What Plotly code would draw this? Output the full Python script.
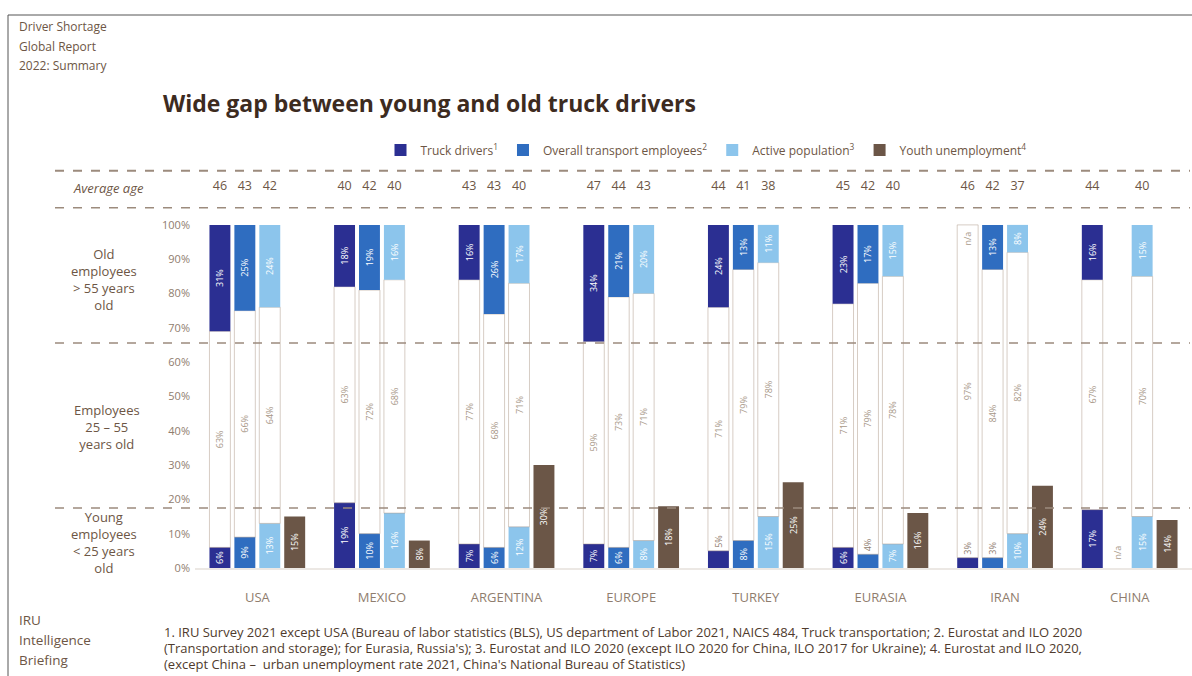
import plotly.graph_objects as go

# ---------------- data ----------------
categories = ["USA", "MEXICO", "ARGENTINA", "EUROPE", "TURKEY", "EURASIA", "IRAN", "CHINA"]

truck_old = [31, 18, 16, 34, 24, 23, None, 16]
truck_mid = [63, 63, 77, 59, 71, 71, 97, 67]
truck_young = [6, 19, 7, 7, 5, 6, 3, 17]

transport_old = [25, 19, 26, 21, 13, 17, 13, None]
transport_mid = [66, 72, 68, 73, 79, 79, 84, None]
transport_young = [9, 10, 6, 6, 8, 4, 3, None]

active_old = [24, 16, 17, 20, 11, 15, 8, 15]
active_mid = [64, 68, 71, 71, 78, 78, 82, 70]
active_young = [13, 16, 12, 8, 15, 7, 10, 15]

youth_unemployment = [15, 8, 30, 18, 25, 16, 24, 14]

truck_age = [46, 40, 43, 47, 44, 45, 46, 44]
transport_age = [43, 42, 43, 44, 41, 42, 42, None]
active_age = [42, 40, 40, 43, 38, 40, 37, 40]

y_ticks = [0, 10, 20, 30, 40, 50, 60, 70, 80, 90, 100]

# ---------------- styling ----------------
FONT = "Open Sans"
TXT = "#6d5645"
GRAY = "#8f7d6e"
MIDTXT = "#a89888"
C_TRUCK = "#2b2f92"
C_TRANS = "#2f6dc0"
C_ACTIVE = "#8cc5ec"
C_YOUTH = "#6b5647"
NOLINE = dict(width=0)

W, H_FIG = 1192, 676
L, R, T, B = 195, 0, 170, 108
PW = W - L - R
PH = H_FIG - T - B
Y_MAX = 116


def px_x(x):
    return (x - L) / PW


def px_y(y):
    return (H_FIG - B - y) / PH


def pct(vals):
    return [None if v is None else f"{v}%" for v in vals]


fig = go.Figure()

series = [
    ("truck", "Truck drivers<sup>1</sup>", C_TRUCK, truck_old, truck_mid, truck_young, truck_age),
    ("trans", "Overall transport employees<sup>2</sup>", C_TRANS, transport_old, transport_mid, transport_young, transport_age),
    ("active", "Active population<sup>3</sup>", C_ACTIVE, active_old, active_mid, active_young, active_age),
]

for key, name, color, old, mid, young, age in series:
    # young (< 25) segment from 0
    fig.add_bar(
        x=categories, y=young, base=0, offsetgroup=key,
        marker=dict(color=color, line=NOLINE),
        text=pct(young), textposition="auto", textangle=-90,
        insidetextanchor="middle",
        insidetextfont=dict(color="white", size=9, family=FONT),
        outsidetextfont=dict(color=GRAY, size=9, family=FONT),
        showlegend=False, hoverinfo="skip", cliponaxis=False,
    )
    # middle (25-55) segment, outline only
    mid_h = []
    for o, m, y in zip(old, mid, young):
        mid_h.append(None if m is None else 100 - (o or 0) - y)
    fig.add_bar(
        x=categories, y=mid_h, base=young, offsetgroup=key,
        marker=dict(color="rgba(255,255,255,0)", line=dict(color="rgba(175,155,140,0.5)", width=1)),
        text=pct(mid), textposition="inside", textangle=-90,
        insidetextanchor="middle",
        textfont=dict(color=MIDTXT, size=9, family=FONT),
        showlegend=False, hoverinfo="skip",
    )
    # old (> 55) segment hanging from 100%
    fig.add_bar(
        x=categories, y=old, base=[None if o is None else 100 - o for o in old],
        offsetgroup=key, marker=dict(color=color, line=NOLINE),
        name=name, legendgroup=key,
        text=pct(old), textposition="inside", textangle=-90,
        insidetextanchor="middle",
        textfont=dict(color="white", size=9, family=FONT),
        showlegend=True, hoverinfo="skip",
    )
    # n/a labels
    na_top = [8 if (o is None and m is not None) else None for o, m in zip(old, mid)]
    na_bot = [8 if (y is None) else None for y in young]
    if any(na_top):
        fig.add_bar(
            x=categories, y=na_top, base=92, offsetgroup=key,
            marker=dict(color="rgba(0,0,0,0)", line=NOLINE),
            text=["n/a" if v else None for v in na_top], textposition="inside", textangle=-90,
            insidetextanchor="middle", textfont=dict(color=MIDTXT, size=9, family=FONT),
            showlegend=False, hoverinfo="skip",
        )
    if any(na_bot):
        fig.add_bar(
            x=categories, y=na_bot, base=0.5, offsetgroup=key,
            marker=dict(color="rgba(0,0,0,0)", line=NOLINE),
            text=["n/a" if v else None for v in na_bot], textposition="inside", textangle=-90,
            insidetextanchor="middle", textfont=dict(color=MIDTXT, size=9, family=FONT),
            showlegend=False, hoverinfo="skip",
        )
    # average age labels
    fig.add_bar(
        x=categories, y=[7 if a is not None else None for a in age], base=108,
        offsetgroup=key, marker=dict(color="rgba(0,0,0,0)", line=NOLINE),
        text=[None if a is None else str(a) for a in age], textposition="inside",
        textangle=0, insidetextanchor="middle",
        textfont=dict(color=TXT, size=12.5, family=FONT),
        showlegend=False, hoverinfo="skip",
    )

# youth unemployment
fig.add_bar(
    x=categories, y=youth_unemployment, base=0, offsetgroup="youth",
    marker=dict(color=C_YOUTH, line=NOLINE), name="Youth unemployment<sup>4</sup>",
    text=pct(youth_unemployment), textposition="inside", textangle=-90,
    insidetextanchor="middle",
    textfont=dict(color="white", size=9, family=FONT),
    showlegend=True, hoverinfo="skip",
)

# ---------------- layout ----------------
shapes = []
for yv, wdt in [(Y_MAX - 0.2, 2), (105, 1.5), (65.6, 1.5), (17.5, 1.5)]:
    shapes.append(dict(
        type="line", xref="paper", yref="paper",
        x0=px_x(55), x1=px_x(1190), y0=yv / Y_MAX, y1=yv / Y_MAX,
        line=dict(color="#9c8b7d", width=wdt, dash="dash"),
    ))
# frame
shapes.append(dict(type="line", xref="paper", yref="paper",
                   x0=px_x(8), x1=px_x(1192), y0=px_y(15), y1=px_y(15),
                   line=dict(color="#555555", width=1)))
shapes.append(dict(type="line", xref="paper", yref="paper",
                   x0=px_x(8), x1=px_x(8), y0=px_y(15), y1=px_y(676),
                   line=dict(color="#555555", width=1)))

annotations = []


def note(text, x, y, size=12, color=TXT, xanchor="left", align="left", bold=False, italic=False):
    if bold:
        text = f"<b>{text}</b>"
    if italic:
        text = f"<i>{text}</i>"
    annotations.append(dict(
        text=text, xref="paper", yref="paper", x=px_x(x), y=px_y(y),
        xanchor=xanchor, yanchor="middle", showarrow=False, align=align,
        font=dict(size=size, color=color, family=FONT),
    ))


note("Driver Shortage", 17, 27, size=12)
note("Global Report", 17, 46, size=12)
note("2022: Summary", 17, 65, size=12)
note("Wide gap between young and old truck drivers", 161, 103, size=23, color="#3d2b1f", bold=True)
note("Average age", 108, 188, size=13, xanchor="center", align="center", italic=True)
note("Old<br>employees<br>> 55 years<br>old", 104, 279, size=13, xanchor="center", align="center")
note("Employees<br>25 – 55<br>years old", 107, 427, size=13, xanchor="center", align="center")
note("Young<br>employees<br>< 25 years<br>old", 104, 542, size=13, xanchor="center", align="center")
note("IRU", 17, 620, size=13.5)
note("Intelligence", 17, 640, size=13.5)
note("Briefing", 17, 660, size=13.5)
foot = [
    "1. IRU Survey 2021 except USA (Bureau of labor statistics (BLS), US department of Labor 2021, NAICS 484, Truck transportation; 2. Eurostat and ILO 2020",
    "(Transportation and storage); for Eurasia, Russia's); 3. Eurostat and ILO 2020 (except ILO 2020 for China, ILO 2017 for Ukraine); 4. Eurostat and ILO 2020,",
    "(except China –  urban unemployment rate 2021, China's National Bureau of Statistics)",
]
for i, line in enumerate(foot):
    note(line, 162, 632 + i * 16, size=13, color="#4f3b2d")

fig.update_layout(
    width=W, height=H_FIG,
    margin=dict(l=L, r=R, t=T, b=B, pad=0),
    paper_bgcolor="white", plot_bgcolor="white",
    barmode="group", bargap=0.2, bargroupgap=0.16,
    font=dict(family=FONT, color=TXT),
    showlegend=True,
    legend=dict(
        orientation="h", x=px_x(706), xanchor="center", y=px_y(150), yanchor="middle",
        font=dict(size=12, color=TXT, family=FONT), bgcolor="rgba(0,0,0,0)",
        itemwidth=30,
    ),
    xaxis=dict(
        type="category", categoryorder="array", categoryarray=categories,
        tickfont=dict(size=13, color=GRAY, family=FONT),
        ticks="outside", ticklen=16, tickcolor="rgba(0,0,0,0)",
        showline=True, linecolor="#ece8e4", linewidth=2,
        showgrid=False, fixedrange=True,
    ),
    yaxis=dict(
        range=[0, Y_MAX], tickvals=y_ticks, ticktext=[f"{v}%" for v in y_ticks],
        tickfont=dict(size=11, color=GRAY, family=FONT),
        showgrid=False, zeroline=False, showline=False, ticks="",
        ticklabelstandoff=4,
    ),
    shapes=shapes, annotations=annotations,
)

fig.write_html(
    "out.html",
    config={"displayModeBar": False},
    post_script="document.body.style.margin='0';document.body.style.overflow='hidden';",
)
